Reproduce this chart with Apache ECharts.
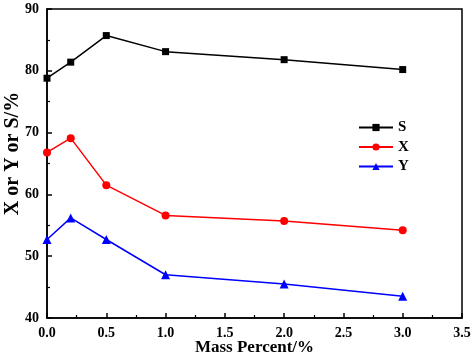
<!DOCTYPE html>
<html><head><meta charset="utf-8">
<script src="https://cdn.jsdelivr.net/npm/echarts@6/dist/echarts.min.js"></script>
<style>html,body{margin:0;padding:0;background:#fff}#c{width:474px;height:357px}</style>
</head><body><div id="c"></div>
<script>
const massPercent = [0, 0.2, 0.5, 1.0, 2.0, 3.0];
const sValues = [78.8, 81.4, 85.7, 83.1, 81.8, 80.2];
const xValues = [66.8, 69.1, 61.5, 56.6, 55.7, 54.2];
const yValues = [52.7, 56.2, 52.7, 47.0, 45.5, 43.5];
const seriesNames = ['S', 'X', 'Y'];
const F = '"Liberation Serif","Times New Roman",serif';
function pairs(v){ return massPercent.map((m,i)=>[m, v[i]]); }
const chart = echarts.init(document.getElementById('c'));
chart.setOption({
  animation:false,
  backgroundColor:'#fff',
  grid:{left:47,right:12,top:9,bottom:39,outerBoundsMode:'none',containLabel:false,
    show:true,borderColor:'#000',borderWidth:1.5,backgroundColor:'transparent'},
  legend:{orient:'vertical',left:358,top:120,padding:0,itemGap:4.5,itemWidth:34,itemHeight:9,
    textStyle:{fontFamily:F,fontWeight:'bold',fontSize:15,color:'#000'},
    data:seriesNames},
  xAxis:{type:'value',min:0,max:3.5,interval:0.5,
    name:'Mass Percent/%',nameLocation:'middle',nameGap:21,nameMoveOverlap:false,
    nameTextStyle:{fontFamily:F,fontWeight:'bold',fontSize:17,color:'#000'},
    axisLine:{lineStyle:{color:'#000',width:1.5}},
    axisTick:{inside:true,length:5,lineStyle:{color:'#000',width:1.5}},
    minorTick:{show:true,splitNumber:2,length:3,lineStyle:{color:'#000',width:1.2}},
    splitLine:{show:false},
    axisLabel:{fontFamily:F,fontWeight:'bold',fontSize:14,color:'#000',margin:8,formatter:v=>v.toFixed(1)}},
  yAxis:{type:'value',min:40,max:90,interval:10,
    name:'X or Y or S/%',nameLocation:'middle',nameGap:24,nameMoveOverlap:false,
    nameTextStyle:{fontFamily:F,fontWeight:'bold',fontSize:20,color:'#000',padding:[0,0,0,20]},
    axisLine:{lineStyle:{color:'#000',width:1.5}},
    axisTick:{inside:true,length:5,lineStyle:{color:'#000',width:1.5}},
    minorTick:{show:true,splitNumber:2,length:3,lineStyle:{color:'#000',width:1.2}},
    splitLine:{show:false},
    axisLabel:{fontFamily:F,fontWeight:'bold',fontSize:14,color:'#000',margin:8}},
  series:[
    {name:seriesNames[0],type:'line',data:pairs(sValues),symbol:'rect',symbolSize:7,
     itemStyle:{color:'#000'},lineStyle:{color:'#000',width:1.5}},
    {name:seriesNames[1],type:'line',data:pairs(xValues),symbol:'circle',symbolSize:8,
     itemStyle:{color:'#ff0000'},lineStyle:{color:'#ff0000',width:1.5}},
    {name:seriesNames[2],type:'line',data:pairs(yValues),symbol:'triangle',symbolSize:9,
     itemStyle:{color:'#0000ff'},lineStyle:{color:'#0000ff',width:1.5}}
  ]
});
</script></body></html>
